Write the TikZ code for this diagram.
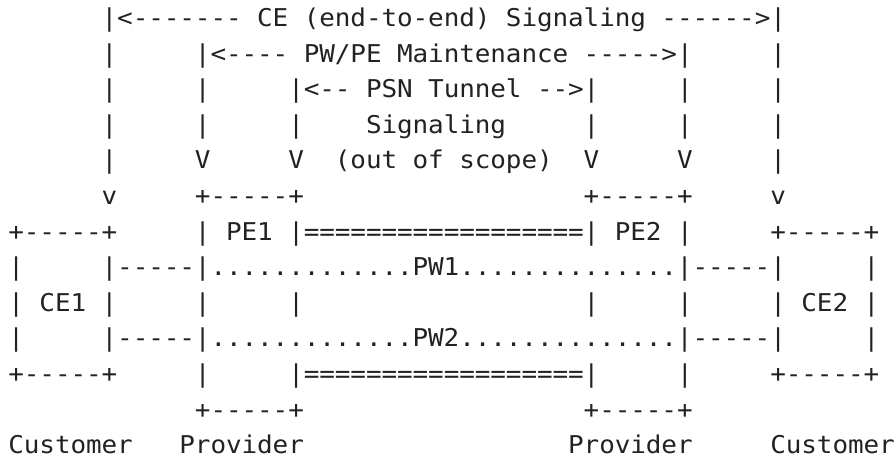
\documentclass[tikz,border=0pt]{standalone}
\usepackage{fontspec}
\newfontfamily\diagfont[FakeStretch=1.06,Ligatures=TeXOff]{DejaVu Sans Mono}
\definecolor{ink}{RGB}{34,34,34}
\newlength\cellw
\setlength\cellw{15.55pt}
% every character sits in its own fixed-width cell, so columns line up exactly
\ExplSyntaxOn
\NewDocumentCommand\cells{m}{\tl_map_inline:nn{#1}{\makebox[\cellw][c]{##1}}}
\ExplSyntaxOff
% \asc{column}{row}{text}: one run of characters, starting at a grid cell
\newcommand\asc[3]{\node[asc] (r#2c#1) at (#1,#2) {\cells{#3}};}
\begin{document}
\begin{tikzpicture}[
  asc/.style={anchor=base west, inner sep=0pt, outer sep=0pt,
              font=\diagfont\fontsize{24.5pt}{30pt}\selectfont, text=ink}]
\fill[white] (0pt,0pt) rectangle (896pt,-459pt);
\useasboundingbox (0pt,0pt) rectangle (896pt,-459pt);
\begin{scope}[x=15.55pt, y=-35.6pt, shift={(8.4pt,9.1pt)}]
% signaling / maintenance spans
\asc{6}{1}{|<-------}\asc{16}{1}{CE}\asc{19}{1}{(end-to-end)}\asc{32}{1}{Signaling}\asc{42}{1}{------>|}
\asc{6}{2}{|}\asc{12}{2}{|<----}\asc{19}{2}{PW/PE}\asc{25}{2}{Maintenance}\asc{37}{2}{----->|}\asc{49}{2}{|}
\asc{6}{3}{|}\asc{12}{3}{|}\asc{18}{3}{|<--}\asc{23}{3}{PSN}\asc{27}{3}{Tunnel}\asc{34}{3}{-->|}\asc{43}{3}{|}\asc{49}{3}{|}
\asc{6}{4}{|}\asc{12}{4}{|}\asc{18}{4}{|}\asc{23}{4}{Signaling}\asc{37}{4}{|}\asc{43}{4}{|}\asc{49}{4}{|}
\asc{6}{5}{|}\asc{12}{5}{V}\asc{18}{5}{V}\asc{21}{5}{(out}\asc{26}{5}{of}\asc{29}{5}{scope)}\asc{37}{5}{V}\asc{43}{5}{V}\asc{49}{5}{|}
\asc{6}{6}{v}\asc{12}{6}{+-----+}\asc{37}{6}{+-----+}\asc{49}{6}{v}
% CE and PE boxes with the tunnel and pseudowires
\asc{0}{7}{+-----+}\asc{12}{7}{|}\asc{14}{7}{PE1}\asc{18}{7}{|==================|}\asc{39}{7}{PE2}\asc{43}{7}{|}\asc{49}{7}{+-----+}
\asc{0}{8}{|}\asc{6}{8}{|-----|.............PW1..............|-----|}\asc{55}{8}{|}
\asc{0}{9}{|}\asc{2}{9}{CE1}\asc{6}{9}{|}\asc{12}{9}{|}\asc{18}{9}{|}\asc{37}{9}{|}\asc{43}{9}{|}\asc{49}{9}{|}\asc{51}{9}{CE2}\asc{55}{9}{|}
\asc{0}{10}{|}\asc{6}{10}{|-----|.............PW2..............|-----|}\asc{55}{10}{|}
\asc{0}{11}{+-----+}\asc{12}{11}{|}\asc{18}{11}{|==================|}\asc{43}{11}{|}\asc{49}{11}{+-----+}
\asc{12}{12}{+-----+}\asc{37}{12}{+-----+}
% roles
\asc{0}{13}{Customer}\asc{11}{13}{Provider}\asc{36}{13}{Provider}\asc{49}{13}{Customer}
\end{scope}
\end{tikzpicture}
\end{document}
